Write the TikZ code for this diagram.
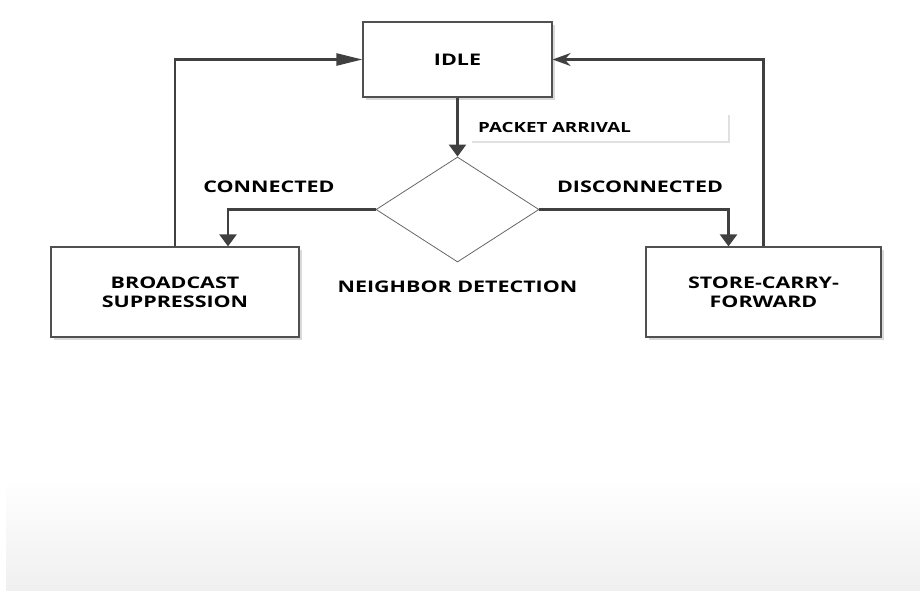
\documentclass[tikz,border=0pt]{standalone}
\usepackage{fontspec}
\setmainfont{Open Sans}[FakeStretch=1.34]
\usepackage{tikz}
\usetikzlibrary{
  arrows.meta, positioning, shapes.geometric, shadows
}
\definecolor{linegray}{HTML}{404040}
\definecolor{boxgray}{HTML}{505050}

\begin{document}
\begin{tikzpicture}[x=1pt, y=-1pt, node distance=150pt,
  statebox/.style={draw=boxgray, line width=1.2pt, rectangle, fill=white,
    minimum height=90pt, align=center, font=\fontsize{16}{19}\selectfont\bfseries,
    drop shadow={shadow xshift=2.5pt, shadow yshift=-2.5pt, fill=black!15, opacity=1}},
  decision/.style={draw=black!60, line width=0.8pt, diamond, inner sep=0pt,
    minimum width=163pt, minimum height=105pt},
  caption/.style={font=\fontsize{16}{19}\selectfont\bfseries},
  tag/.style={fill=white, text width=242pt, inner xsep=8pt, minimum height=28pt,
    align=left, font=\fontsize{14}{17}\selectfont\bfseries,
    drop shadow={shadow xshift=2pt, shadow yshift=-2pt, fill=black!12, opacity=1}},
  link/.style={draw=linegray, line width=2.3pt},
  down/.style={link, -{Triangle[length=12pt, width=17pt]}}
]
\useasboundingbox (0,0) rectangle (920,590);
\fill[top color=white, bottom color=black!6] (6,478) rectangle (920,590);

\node (Idle) [statebox, minimum width=189pt, minimum height=75pt] at (457.5,59.5) {IDLE};
\node (Detect) [below of=Idle, decision] {};
\node (Broadcast) [left of=Detect, xshift=-132.5pt, yshift=-82.5pt, statebox, minimum width=248pt] {BROADCAST\\SUPPRESSION};
\node (Store) [right of=Detect, xshift=156pt, yshift=-82.5pt, statebox, minimum width=235pt] {STORE-CARRY-\\FORWARD};

\node (Packet) [tag, anchor=west] at (470,127) {PACKET ARRIVAL};
\node (Connected) [left of=Detect, xshift=-38.5pt, yshift=22.5pt, caption] {CONNECTED};
\node (Disconnected) [right of=Detect, xshift=32.5pt, yshift=22.5pt, caption] {DISCONNECTED};
\node (Neighbor) [below of=Detect, yshift=72.5pt, caption] {NEIGHBOR DETECTION};

\draw[down] (Idle) -- (Detect);
\draw[down] (Detect.west) -| ([xshift=53pt]Broadcast.north);
\draw[down] (Detect.east) -| ([xshift=-35pt]Store.north);
\draw[link, -{Triangle[length=26pt, width=12pt]}] (Broadcast.north) |- (Idle.west);
\draw[link, -{Stealth[length=18pt, width=13pt]}] (Store.north) |- (Idle.east);
\end{tikzpicture}
\end{document}
